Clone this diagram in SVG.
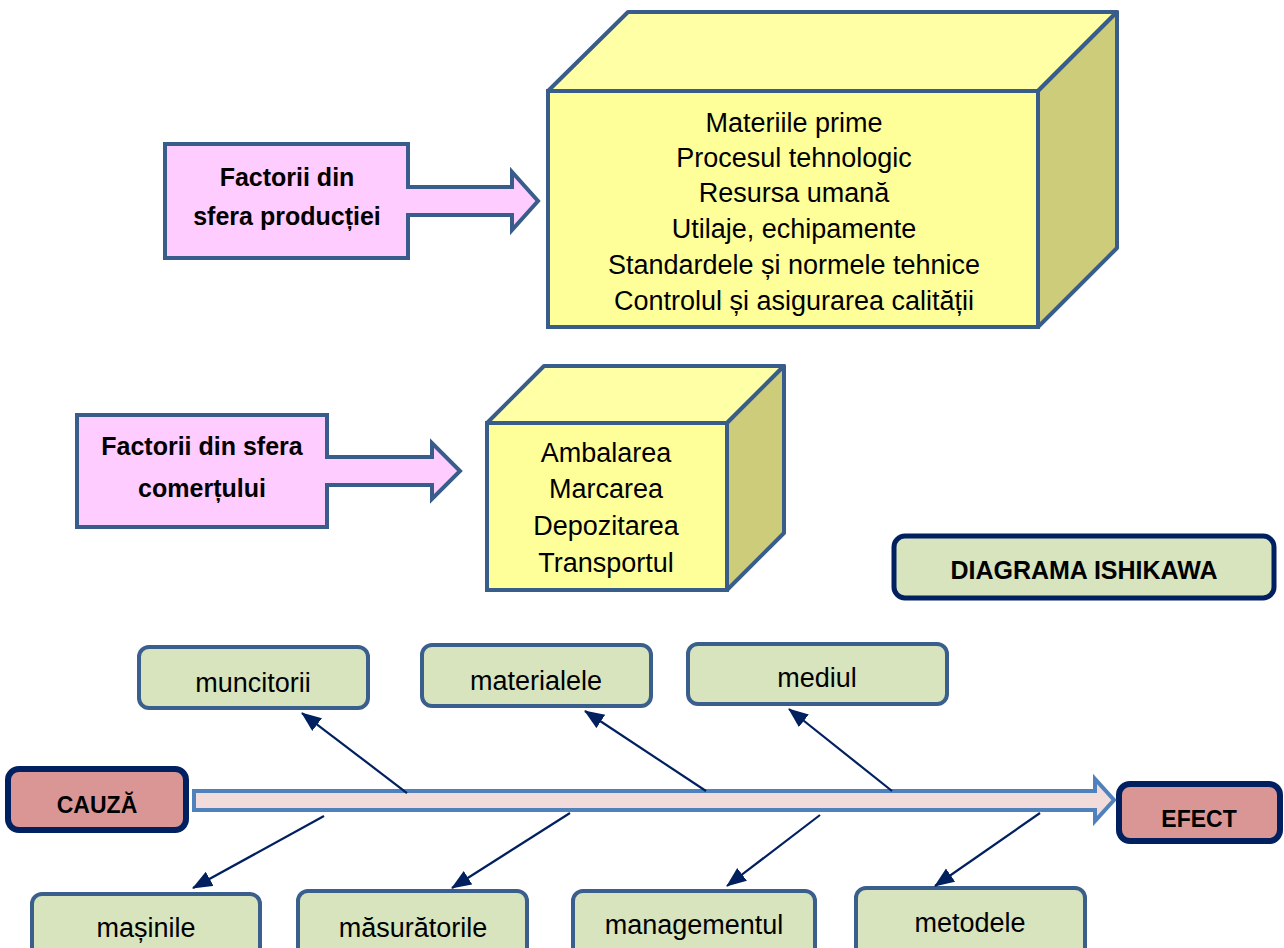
<svg xmlns="http://www.w3.org/2000/svg" width="1284" height="948" viewBox="0 0 1284 948">
<defs>
<marker id="ah" markerUnits="userSpaceOnUse" markerWidth="20" markerHeight="18" refX="19" refY="8" orient="auto">
<path d="M0,0 L20,8 L0,16 Z" fill="#002060"/>
</marker>
<style>
.t{font-family:"Liberation Sans",Arial,sans-serif;font-size:27px;fill:#000;text-anchor:middle}
.b{font-family:"Liberation Sans",Arial,sans-serif;font-weight:bold;font-size:25px;fill:#000;text-anchor:middle}
.pink{fill:#ffccff;stroke:#385d8a;stroke-width:4;stroke-linejoin:miter}
.front{fill:#ffff99;stroke:#385d8a;stroke-width:4;stroke-linejoin:miter}
.top{fill:#ffffa6;stroke:#385d8a;stroke-width:4;stroke-linejoin:round}
.side{fill:#cccc7a;stroke:#385d8a;stroke-width:4;stroke-linejoin:round}
.g{fill:#d7e4bd;stroke:#3a5f8c;stroke-width:4}
.r{fill:#d99694;stroke:#002060;stroke-width:6}
.hd{fill:#d7e4bd;stroke:#002060;stroke-width:5}
.c{stroke:#002060;stroke-width:2.2;fill:none;marker-end:url(#ah)}
</style>
</defs>
<rect width="1284" height="948" fill="#ffffff"/>

<g id="factori-productie">
<path class="pink" d="M165,144 H408 V187 H512 V172 L538,201 L512,230 V215 H408 V258 H165 Z"/>
<text class="b" x="287" y="186">Factorii din</text>
<text class="b" x="287" y="225">sfera producției</text>
</g>

<g id="cub-productie">
<path class="top" d="M548,91 L628,12 L1117,12 L1038,91 Z"/>
<path class="side" d="M1038,91 L1117,12 L1117,248 L1038,327 Z"/>
<rect class="front" x="548" y="91" width="490" height="236"/>
<text class="t" x="794" y="132">Materiile prime</text>
<text class="t" x="794" y="167">Procesul tehnologic</text>
<text class="t" x="794" y="202">Resursa umană</text>
<text class="t" x="794" y="238">Utilaje, echipamente</text>
<text class="t" x="794" y="274">Standardele și normele tehnice</text>
<text class="t" x="794" y="310">Controlul și asigurarea calității</text>
</g>

<g id="factori-comert">
<path class="pink" d="M77,415 H327 V457 H432 V443 L460,471 L432,499 V485 H327 V527 H77 Z"/>
<text class="b" x="202" y="455">Factorii din sfera</text>
<text class="b" x="202" y="497">comerțului</text>
</g>

<g id="cub-comert">
<path class="top" d="M487,423 L544,366 L784,366 L727,423 Z"/>
<path class="side" d="M727,423 L784,366 L784,533 L727,590 Z"/>
<rect class="front" x="487" y="423" width="240" height="167"/>
<text class="t" x="606" y="462">Ambalarea</text>
<text class="t" x="606" y="498">Marcarea</text>
<text class="t" x="606" y="535">Depozitarea</text>
<text class="t" x="606" y="572">Transportul</text>
</g>

<g id="titlu">
<rect class="hd" x="894" y="536" width="380" height="62" rx="11"/>
<text class="b" x="1084" y="579">DIAGRAMA ISHIKAWA</text>
</g>

<g id="cauza">
<rect class="r" x="8" y="769" width="178" height="61" rx="11"/>
<text class="b" x="97" y="813" style="font-size:23px">CAUZĂ</text>
</g>

<g id="efect">
<rect class="r" x="1119" y="784" width="161" height="57" rx="11"/>
<text class="b" x="1199" y="827" style="font-size:23px">EFECT</text>
</g>

<g id="muncitorii"><rect class="g" x="139" y="647" width="229" height="61" rx="10"/><text class="t" x="253" y="692">muncitorii</text></g>
<g id="materialele"><rect class="g" x="422" y="645" width="229" height="61" rx="10"/><text class="t" x="536" y="690">materialele</text></g>
<g id="mediul"><rect class="g" x="688" y="644" width="259" height="60" rx="10"/><text class="t" x="817" y="687">mediul</text></g>
<g id="masinile"><rect class="g" x="32" y="894" width="228" height="70" rx="10"/><text class="t" x="146" y="937">mașinile</text></g>
<g id="masuratorile"><rect class="g" x="298" y="891" width="229" height="70" rx="10"/><text class="t" x="413" y="937">măsurătorile</text></g>
<g id="managementul"><rect class="g" x="573" y="891" width="242" height="70" rx="10"/><text class="t" x="694" y="934">managementul</text></g>
<g id="metodele"><rect class="g" x="856" y="888" width="229" height="70" rx="10"/><text class="t" x="970" y="932">metodele</text></g>

<g id="conectori">
<path d="M194,791 L1095,791 L1095,779 L1114,800 L1095,821 L1095,810 L194,810 Z" fill="#f2dcdb" stroke="#4f81bd" stroke-width="4" stroke-linejoin="miter"/>
<line class="c" x1="407" y1="793" x2="302" y2="713"/>
<line class="c" x1="706" y1="791" x2="585" y2="711"/>
<line class="c" x1="892" y1="791" x2="789" y2="709"/>
<line class="c" x1="324" y1="816" x2="193" y2="888"/>
<line class="c" x1="570" y1="813" x2="452" y2="888"/>
<line class="c" x1="820" y1="815" x2="727" y2="886"/>
<line class="c" x1="1040" y1="813" x2="935" y2="886"/>
</g>
</svg>
